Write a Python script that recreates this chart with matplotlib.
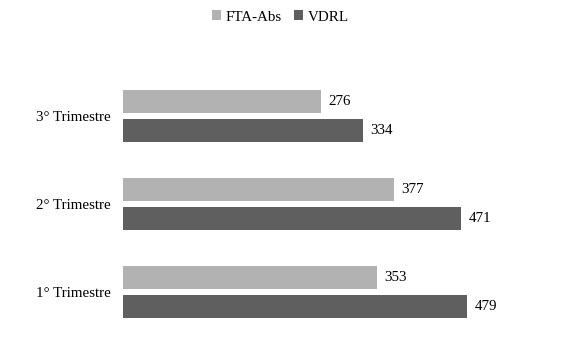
import matplotlib
matplotlib.use("Agg")
import matplotlib.pyplot as plt
import numpy as np

categories = ["1° Trimestre", "2° Trimestre", "3° Trimestre"]
fta_abs = [353, 377, 276]
vdrl = [479, 471, 334]
series_names = ["FTA-Abs", "VDRL"]
colors = ["#b2b2b2", "#5f5f5f"]

plt.rcParams["font.family"] = ["Liberation Serif", "DejaVu Serif"]
FS = 10.8

W, H = 561, 337
fig = plt.figure(figsize=(W / 100, H / 100), dpi=100)
left_px, right_px = 123, 525
top_px, bot_px = 60, 330
ax = fig.add_axes([left_px / W, 1 - bot_px / H, (right_px - left_px) / W, (bot_px - top_px) / H])

y = np.arange(len(categories))
h = 23 / 88
off = 14.5 / 88
b1 = ax.barh(y + off, fta_abs, height=h, color=colors[0], label=series_names[0])
b2 = ax.barh(y - off, vdrl, height=h, color=colors[1], label=series_names[1])

for bars, vals in ((b1, fta_abs), (b2, vdrl)):
    for bar, v in zip(bars, vals):
        ax.annotate(str(v), (bar.get_width(), bar.get_y() + bar.get_height() / 2),
                    xytext=(5.5, 0), textcoords="offset points", va="center", ha="left",
                    fontsize=FS, color="black")

ax.set_xlim(0, (right_px - left_px) / ((467 - 123) / 479))
ax.set_ylim(-(330 - 292) / 88, 2 + (116 - 60) / 88)
ax.set_yticks(y)
ax.set_yticklabels(categories, fontsize=FS)
ax.tick_params(axis="y", length=0, pad=9)
ax.set_xticks([])
for s in ax.spines.values():
    s.set_visible(False)

fig.legend(handles=[b1, b2], labels=series_names, loc="center", bbox_to_anchor=(0.5, 1 - 17 / H),
           ncol=2, frameon=False, fontsize=FS, handlelength=0.6, handleheight=0.6,
           handletextpad=0.35, columnspacing=0.8)

fig.savefig("out.png", dpi=100)
